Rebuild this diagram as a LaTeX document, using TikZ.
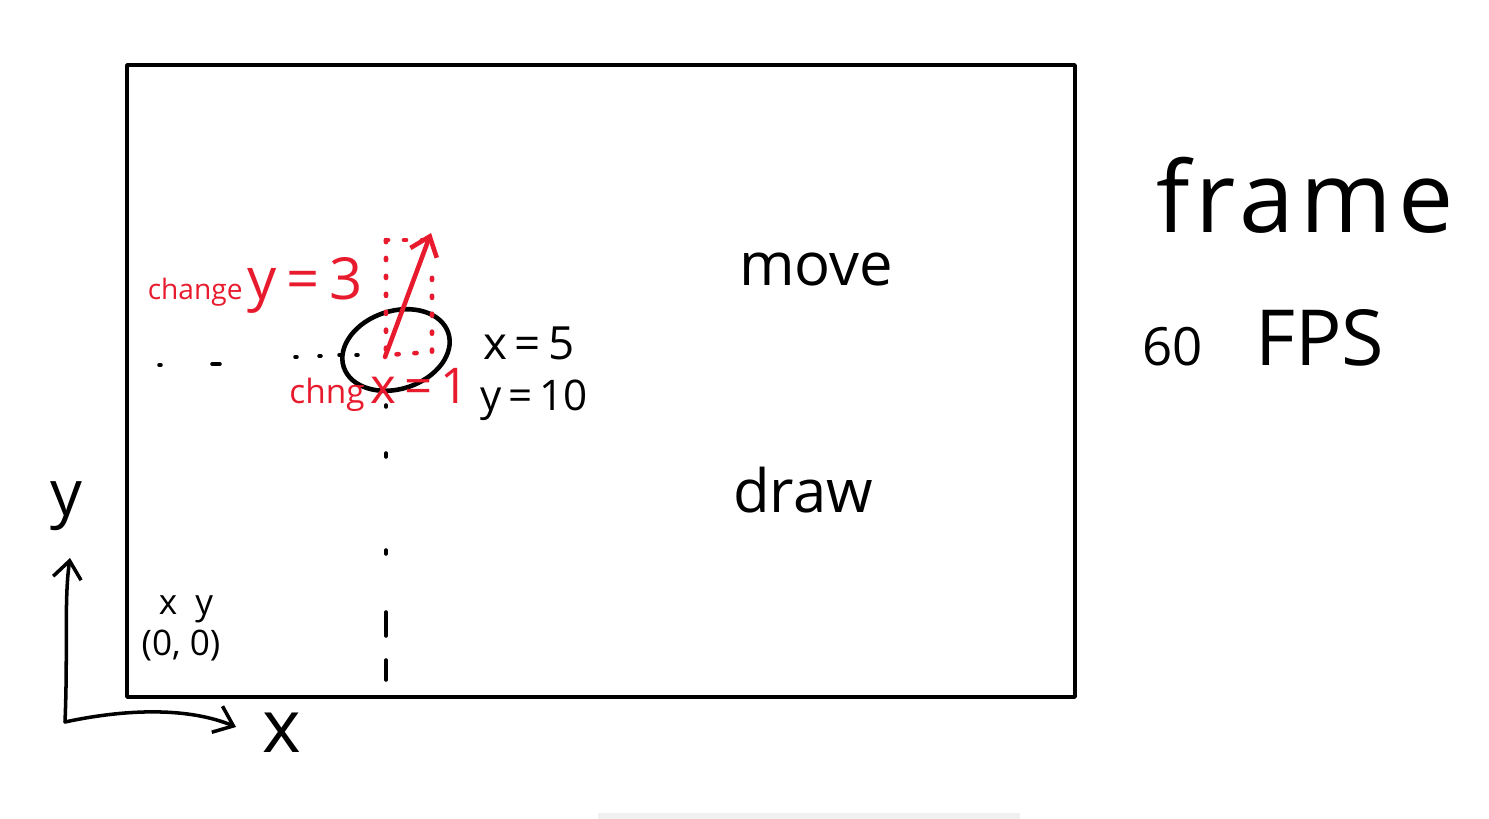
\documentclass[tikz,border=0pt]{standalone}
\usepackage{fontspec}
\setmainfont{Open Sans}
\usetikzlibrary{arrows.meta}
\definecolor{redpen}{RGB}{232,27,46}
\tikzset{
  pen/.style={line width=1pt,line cap=round,line join=round},
  redline/.style={pen,redpen,line width=1.3pt},
  note/.style={inner sep=0pt,anchor=base},
  barb/.style={-{Straight Barb[length=5pt,width=8pt]}}
}
\begin{document}
\begin{tikzpicture}[x=0.01cm,y=-0.01cm]
\useasboundingbox (0,0) rectangle (1489,819);
\fill[gray!12] (598,813) rectangle (1020,819);
% the screen
\draw[pen] (127,65) rectangle (1075,697);
% axes
\coordinate (origin) at (65,722);
\coordinate (ytip) at (70,558);
\coordinate (xtip) at (236,727);
\draw[pen,barb] (origin) .. controls (68,650) and (64,600) .. (ytip);
\draw[pen,barb] (origin) .. controls (130,708) and (190,708) .. (xtip);
\node[note,font=\fontsize{18}{18}\selectfont] (ylabel) at (66,515) {y};
\node[note,font=\fontsize{21}{21}\selectfont] (xlabel) at (282,752) {x};
\node[note,font=\fontsize{10}{10}\selectfont] (xy) at (186,614) {x\ \ y};
\node[note,font=\fontsize{10}{10}\selectfont] (zero) at (181,655) {(0,\ 0)};
% guide dots
\foreach \a/\b in {405/407,453/457,550/554,612/636,660/680}
  \draw[pen] (386,\a) -- (386,\b);
\foreach \a/\b/\c in {159/161/365,212/220/364,295/297/357,319/321/356,339/341/355,356/358/355}
  \draw[pen] (\a,\c) -- (\b,\c);
% the ball
\coordinate (ball) at (396,350);
\draw[pen,line width=1.3pt,rotate around={18:(ball)}] (ball) ellipse [x radius=55, y radius=39];
% velocity
\draw[redline,dash pattern=on 0.6pt off 4.5pt] (386,240) -- (386,355) -- (432,352) -- (432,270);
\draw[redline,dash pattern=on 0.6pt off 4.5pt] (386,240) -- (424,240);
\coordinate (vstart) at (385,357);
\coordinate (vend) at (431,233);
\draw[redline,barb] (vstart) -- (vend);
\node[note,redpen] (dy) at (255,300) {\fontsize{8}{8}\selectfont change\,\fontsize{16.5}{16.5}\selectfont y\,=\,3};
\node[note,redpen] (dx) at (379,404) {\fontsize{9.5}{9.5}\selectfont chng\,\fontsize{14}{14}\selectfont x\,=\,1};
\node[note,font=\fontsize{13}{13}\selectfont] (posx) at (529,360) {x\,=\,5};
\node[note,font=\fontsize{12}{12}\selectfont] (posy) at (534,410) {y\,=\,10};
% steps of a frame
\node[note,font=\fontsize{17}{17}\selectfont] (move) at (816,286) {move};
\node[note,font=\fontsize{17}{17}\selectfont] (draw) at (803,512) {draw};
\node[note,font=\fontsize{28}{28}\selectfont\addfontfeatures{LetterSpace=6}] (frame) at (1305,233) {frame};
\node[note] (fps) at (1263,366) {\fontsize{15}{15}\selectfont 60\quad\fontsize{22}{22}\selectfont FPS};
\end{tikzpicture}
\end{document}
